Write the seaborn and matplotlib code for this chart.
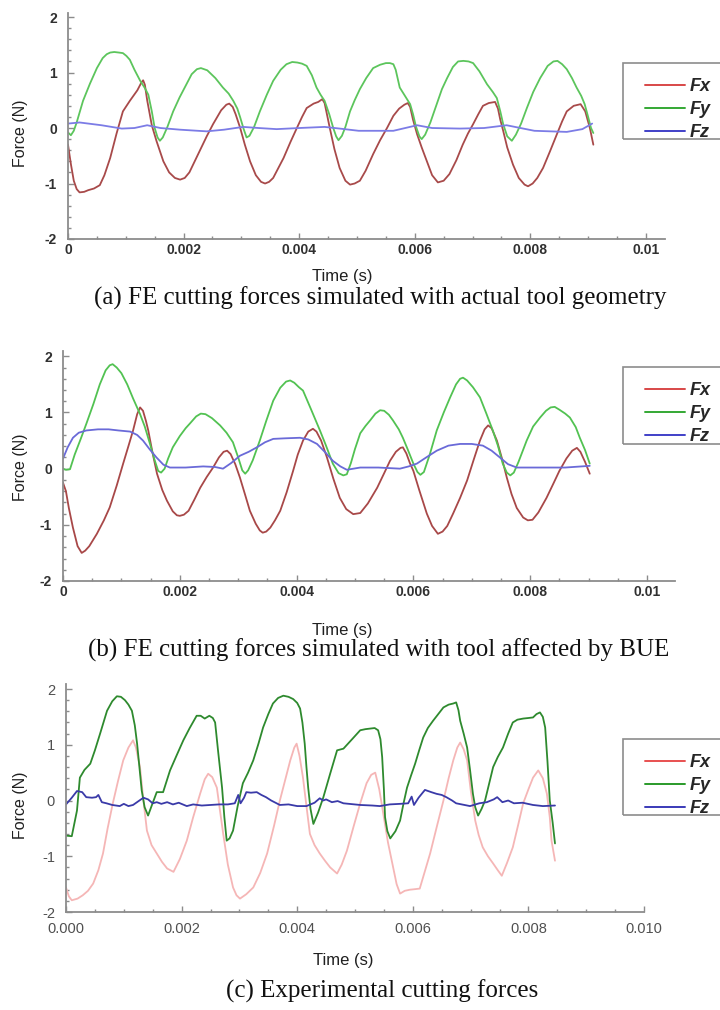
"""Cutting force traces (FE vs experiment) redrawn from the paper figure."""
import matplotlib
matplotlib.use("Agg")
import matplotlib.pyplot as plt
from matplotlib.lines import Line2D
from matplotlib.patches import Rectangle
from matplotlib.ticker import FuncFormatter, MultipleLocator
import pandas as pd
import seaborn as sns

# ---- data: (time in ms, force in N) ----
A_FX = [(0, -0.3), (0.05, -0.65), (0.1, -0.95), (0.15, -1.1), (0.2, -1.16), (0.28, -1.15),
        (0.35, -1.12), (0.45, -1.09), (0.55, -1.03), (0.63, -0.85), (0.73, -0.54), (0.84, -0.1),
        (0.95, 0.3), (1.07, 0.49), (1.2, 0.68), (1.27, 0.82), (1.3, 0.86), (1.33, 0.78),
        (1.37, 0.5), (1.45, 0.05), (1.53, -0.23), (1.65, -0.6), (1.75, -0.8), (1.85, -0.9),
        (1.94, -0.93), (2.02, -0.9), (2.1, -0.8), (2.28, -0.41), (2.4, -0.15), (2.51, 0.07),
        (2.65, 0.32), (2.74, 0.42), (2.79, 0.44), (2.85, 0.38), (2.9, 0.25), (2.98, 0.0),
        (3.06, -0.3), (3.15, -0.6), (3.25, -0.85), (3.34, -0.97), (3.41, -1.0), (3.48, -0.97),
        (3.55, -0.9), (3.73, -0.54), (3.85, -0.25), (3.96, 0.0), (4.05, 0.2), (4.13, 0.36),
        (4.25, 0.44), (4.33, 0.47), (4.4, 0.52), (4.44, 0.45), (4.48, 0.25), (4.53, 0.0),
        (4.61, -0.38), (4.7, -0.72), (4.8, -0.95), (4.88, -1.02), (4.96, -1.0), (5.05, -0.95),
        (5.15, -0.77), (5.28, -0.47), (5.4, -0.22), (5.52, 0.0), (5.63, 0.22), (5.73, 0.35),
        (5.82, 0.42), (5.88, 0.45), (5.92, 0.38), (5.97, 0.15), (6.04, -0.11), (6.12, -0.35),
        (6.21, -0.6), (6.3, -0.85), (6.4, -0.98), (6.5, -0.95), (6.6, -0.83), (6.72, -0.58),
        (6.83, -0.3), (6.92, -0.1), (7.01, 0.07), (7.1, 0.25), (7.18, 0.4), (7.28, 0.45),
        (7.39, 0.47), (7.44, 0.35), (7.48, 0.15), (7.53, -0.05), (7.6, -0.35), (7.7, -0.66),
        (7.8, -0.9), (7.9, -1.02), (7.96, -1.05), (8.04, -1.0), (8.12, -0.9), (8.22, -0.72),
        (8.34, -0.42), (8.46, -0.11), (8.55, 0.12), (8.63, 0.3), (8.75, 0.4), (8.87, 0.43),
        (8.95, 0.3), (9.03, 0.0), (9.09, -0.3)]
A_FY = [(0, -0.08), (0.05, -0.13), (0.1, -0.05), (0.15, 0.1), (0.26, 0.49), (0.38, 0.8),
        (0.5, 1.08), (0.6, 1.26), (0.67, 1.33), (0.73, 1.36), (0.8, 1.37), (0.88, 1.36),
        (0.95, 1.35), (1.01, 1.3), (1.07, 1.23), (1.15, 1.05), (1.25, 0.85), (1.33, 0.72),
        (1.39, 0.6), (1.45, 0.3), (1.5, 0.0), (1.55, -0.17), (1.59, -0.23), (1.64, -0.17),
        (1.72, 0.02), (1.82, 0.3), (1.93, 0.55), (2.05, 0.79), (2.14, 0.97), (2.23, 1.06),
        (2.3, 1.08), (2.41, 1.04), (2.55, 0.9), (2.68, 0.73), (2.78, 0.62), (2.86, 0.49),
        (2.93, 0.35), (2.98, 0.19), (3.04, -0.02), (3.09, -0.17), (3.14, -0.14), (3.22, 0.02),
        (3.32, 0.3), (3.44, 0.6), (3.55, 0.85), (3.68, 1.05), (3.78, 1.15), (3.88, 1.19),
        (3.97, 1.18), (4.05, 1.16), (4.13, 1.12), (4.22, 0.95), (4.3, 0.73), (4.37, 0.6),
        (4.44, 0.49), (4.52, 0.25), (4.59, 0.0), (4.64, -0.15), (4.68, -0.22), (4.74, -0.14),
        (4.8, 0.02), (4.88, 0.3), (4.96, 0.5), (5.05, 0.7), (5.16, 0.9), (5.28, 1.08),
        (5.4, 1.14), (5.5, 1.17), (5.57, 1.17), (5.63, 1.15), (5.67, 1.05), (5.74, 0.73),
        (5.83, 0.58), (5.92, 0.43), (5.97, 0.25), (6.02, 0.03), (6.08, -0.15), (6.12, -0.2),
        (6.18, -0.12), (6.27, 0.1), (6.38, 0.43), (6.47, 0.7), (6.56, 0.9), (6.66, 1.1),
        (6.75, 1.2), (6.84, 1.21), (6.93, 1.2), (7.01, 1.17), (7.12, 1.02), (7.25, 0.79),
        (7.35, 0.65), (7.42, 0.54), (7.48, 0.3), (7.53, 0.07), (7.6, -0.15), (7.68, -0.23),
        (7.75, -0.12), (7.84, 0.08), (7.94, 0.36), (8.05, 0.65), (8.17, 0.9), (8.3, 1.12),
        (8.4, 1.2), (8.47, 1.21), (8.55, 1.15), (8.63, 1.06), (8.72, 0.9), (8.8, 0.73),
        (8.88, 0.58), (8.94, 0.43), (9.0, 0.2), (9.05, 0.0), (9.09, -0.09)]
A_FZ = [(0, 0.08), (0.2, 0.1), (0.58, 0.05), (0.93, -0.01), (1.15, 0.0), (1.37, 0.05),
        (1.6, 0.0), (1.94, -0.03), (2.4, -0.06), (2.7, -0.03), (3.03, 0.02), (3.3, 0.0),
        (3.61, -0.02), (4.0, 0.0), (4.44, 0.02), (4.7, -0.01), (5.03, -0.05), (5.63, -0.05),
        (6.04, 0.05), (6.3, 0.0), (6.78, -0.01), (7.2, 0.0), (7.59, 0.05), (8.07, -0.05),
        (8.63, -0.07), (8.9, -0.02), (9.07, 0.08)]

B_FX = [(0, -0.25), (0.05, -0.4), (0.1, -0.7), (0.17, -1.05), (0.25, -1.38), (0.32, -1.5),
        (0.38, -1.46), (0.45, -1.38), (0.58, -1.16), (0.7, -0.92), (0.8, -0.69), (0.92, -0.3),
        (1.03, 0.09), (1.12, 0.4), (1.2, 0.68), (1.27, 0.97), (1.32, 1.09), (1.37, 1.03),
        (1.42, 0.85), (1.46, 0.68), (1.53, 0.3), (1.61, -0.09), (1.7, -0.38), (1.78, -0.57),
        (1.88, -0.76), (1.95, -0.83), (2.0, -0.84), (2.07, -0.82), (2.15, -0.75), (2.25, -0.55),
        (2.35, -0.34), (2.46, -0.15), (2.57, 0.02), (2.67, 0.2), (2.75, 0.3), (2.81, 0.32),
        (2.87, 0.26), (2.95, 0.08), (3.03, -0.16), (3.12, -0.47), (3.2, -0.75), (3.3, -0.98),
        (3.37, -1.1), (3.42, -1.14), (3.48, -1.12), (3.55, -1.05), (3.63, -0.92), (3.72, -0.75),
        (3.83, -0.42), (3.94, -0.04), (4.02, 0.25), (4.11, 0.5), (4.2, 0.66), (4.28, 0.71),
        (4.34, 0.66), (4.42, 0.5), (4.52, 0.2), (4.63, -0.18), (4.74, -0.52), (4.85, -0.72),
        (4.97, -0.81), (5.09, -0.79), (5.22, -0.62), (5.38, -0.34), (5.5, -0.08), (5.6, 0.14),
        (5.7, 0.3), (5.78, 0.37), (5.82, 0.38), (5.88, 0.27), (5.94, 0.1), (6.0, -0.04),
        (6.1, -0.38), (6.23, -0.8), (6.32, -1.02), (6.42, -1.16), (6.5, -1.12), (6.58, -1.02),
        (6.68, -0.8), (6.8, -0.52), (6.92, -0.21), (7.03, 0.15), (7.14, 0.5), (7.22, 0.7),
        (7.28, 0.77), (7.34, 0.72), (7.43, 0.5), (7.52, 0.17), (7.6, -0.16), (7.68, -0.45),
        (7.77, -0.7), (7.88, -0.87), (7.96, -0.92), (8.04, -0.91), (8.14, -0.78), (8.28, -0.52),
        (8.4, -0.26), (8.5, -0.04), (8.62, 0.18), (8.72, 0.32), (8.8, 0.37), (8.86, 0.3),
        (8.94, 0.12), (9.02, -0.09)]
B_FY = [(0, 0.0), (0.05, -0.02), (0.12, -0.01), (0.2, 0.25), (0.3, 0.52), (0.4, 0.8),
        (0.52, 1.15), (0.63, 1.5), (0.73, 1.75), (0.8, 1.84), (0.85, 1.86), (0.92, 1.8),
        (1.0, 1.7), (1.1, 1.5), (1.2, 1.25), (1.32, 0.97), (1.4, 0.75), (1.49, 0.44),
        (1.57, 0.15), (1.63, -0.04), (1.68, -0.07), (1.74, 0.0), (1.8, 0.18), (1.88, 0.38),
        (2.0, 0.58), (2.1, 0.72), (2.17, 0.8), (2.28, 0.93), (2.36, 0.98), (2.44, 0.97),
        (2.55, 0.9), (2.69, 0.77), (2.8, 0.64), (2.91, 0.47), (3.0, 0.2), (3.07, -0.03),
        (3.12, -0.09), (3.17, -0.03), (3.25, 0.15), (3.37, 0.5), (3.48, 0.85), (3.6, 1.21),
        (3.72, 1.44), (3.82, 1.55), (3.89, 1.57), (3.96, 1.53), (4.04, 1.45), (4.11, 1.39),
        (4.25, 1.05), (4.4, 0.68), (4.5, 0.42), (4.62, 0.09), (4.72, -0.08), (4.8, -0.12),
        (4.86, -0.1), (4.93, 0.1), (5.0, 0.35), (5.09, 0.63), (5.18, 0.76), (5.26, 0.86),
        (5.35, 0.98), (5.43, 1.04), (5.5, 1.03), (5.58, 0.96), (5.65, 0.86), (5.75, 0.7),
        (5.82, 0.55), (5.9, 0.35), (6.0, 0.09), (6.07, -0.06), (6.12, -0.11), (6.18, -0.06),
        (6.28, 0.25), (6.4, 0.68), (6.52, 1.0), (6.63, 1.27), (6.73, 1.5), (6.8, 1.6),
        (6.85, 1.62), (6.92, 1.57), (7.02, 1.45), (7.14, 1.27), (7.25, 0.98), (7.36, 0.68),
        (7.45, 0.4), (7.53, 0.09), (7.6, -0.07), (7.66, -0.12), (7.72, -0.07), (7.8, 0.12),
        (7.94, 0.5), (8.05, 0.75), (8.17, 0.91), (8.27, 1.03), (8.35, 1.09), (8.42, 1.1),
        (8.5, 1.05), (8.6, 0.98), (8.68, 0.91), (8.78, 0.74), (8.85, 0.55), (8.94, 0.33),
        (9.02, 0.09)]
B_FZ = [(0, 0.18), (0.08, 0.38), (0.17, 0.55), (0.27, 0.64), (0.4, 0.68), (0.6, 0.7),
        (0.78, 0.7), (0.95, 0.68), (1.15, 0.66), (1.27, 0.6), (1.37, 0.5), (1.48, 0.35),
        (1.6, 0.2), (1.72, 0.07), (1.83, 0.02), (2.1, 0.02), (2.4, 0.04), (2.6, 0.03),
        (2.74, 0.0), (2.88, 0.1), (3.03, 0.23), (3.18, 0.3), (3.32, 0.38), (3.46, 0.47),
        (3.6, 0.53), (3.8, 0.54), (4.06, 0.55), (4.2, 0.52), (4.35, 0.44), (4.5, 0.28),
        (4.62, 0.14), (4.75, 0.04), (4.86, -0.02), (5.09, 0.02), (5.4, 0.02), (5.77, 0.0),
        (5.92, 0.04), (6.06, 0.09), (6.22, 0.2), (6.4, 0.32), (6.6, 0.41), (6.8, 0.44),
        (7.0, 0.44), (7.19, 0.41), (7.34, 0.32), (7.48, 0.2), (7.62, 0.08), (7.77, 0.02),
        (8.2, 0.02), (8.6, 0.02), (9.02, 0.05)]

C_FX = [(0, -1.56), (0.05, -1.72), (0.1, -1.79), (0.2, -1.76), (0.29, -1.7), (0.38, -1.62),
        (0.47, -1.49), (0.56, -1.25), (0.64, -0.95), (0.72, -0.5), (0.81, -0.05), (0.9, 0.35),
        (0.99, 0.72), (1.08, 0.95), (1.16, 1.08), (1.21, 0.95), (1.28, 0.6), (1.34, 0.0),
        (1.4, -0.54), (1.48, -0.8), (1.57, -0.95), (1.66, -1.1), (1.75, -1.22), (1.86, -1.28),
        (1.97, -1.05), (2.09, -0.72), (2.2, -0.3), (2.32, 0.12), (2.4, 0.38), (2.46, 0.48),
        (2.53, 0.42), (2.61, 0.23), (2.66, -0.15), (2.72, -0.6), (2.8, -1.15), (2.89, -1.56),
        (2.95, -1.7), (3.01, -1.76), (3.12, -1.68), (3.24, -1.56), (3.36, -1.3), (3.48, -0.95),
        (3.6, -0.45), (3.7, 0.0), (3.8, 0.4), (3.88, 0.72), (3.95, 0.95), (3.99, 1.02),
        (4.04, 0.8), (4.1, 0.41), (4.16, -0.1), (4.22, -0.6), (4.3, -0.8), (4.39, -0.95),
        (4.48, -1.08), (4.57, -1.2), (4.69, -1.31), (4.77, -1.15), (4.86, -0.9), (4.98, -0.45),
        (5.09, -0.05), (5.2, 0.31), (5.28, 0.46), (5.35, 0.5), (5.42, 0.2), (5.49, -0.24),
        (5.57, -0.75), (5.66, -1.2), (5.72, -1.5), (5.78, -1.67), (5.86, -1.62), (5.95, -1.6),
        (6.04, -1.59), (6.12, -1.58), (6.2, -1.3), (6.3, -0.95), (6.42, -0.45), (6.53, 0.0),
        (6.62, 0.4), (6.7, 0.72), (6.77, 0.95), (6.82, 1.04), (6.88, 0.92), (6.94, 0.72),
        (7.0, 0.2), (7.08, -0.36), (7.14, -0.62), (7.21, -0.84), (7.3, -1.0), (7.39, -1.13),
        (7.47, -1.25), (7.54, -1.35), (7.63, -1.12), (7.73, -0.84), (7.82, -0.45), (7.91, -0.05),
        (8.0, 0.2), (8.08, 0.41), (8.17, 0.54), (8.25, 0.4), (8.32, 0.12), (8.37, -0.3),
        (8.4, -0.72), (8.46, -1.08)]
C_FY = [(0, -0.63), (0.1, -0.64), (0.19, -0.18), (0.24, 0.41), (0.32, 0.55), (0.42, 0.66),
        (0.5, 0.9), (0.59, 1.2), (0.71, 1.61), (0.8, 1.78), (0.88, 1.87), (0.95, 1.86),
        (1.02, 1.8), (1.08, 1.72), (1.14, 1.61), (1.19, 1.35), (1.23, 1.02), (1.27, 0.6),
        (1.31, 0.18), (1.36, -0.12), (1.42, -0.27), (1.48, -0.1), (1.57, 0.15), (1.68, 0.15),
        (1.8, 0.54), (1.91, 0.8), (2.03, 1.08), (2.14, 1.3), (2.26, 1.52), (2.33, 1.52),
        (2.4, 1.47), (2.48, 1.52), (2.54, 1.48), (2.58, 1.4), (2.63, 0.9), (2.7, 0.23),
        (2.74, -0.3), (2.78, -0.72), (2.83, -0.68), (2.89, -0.54), (2.97, -0.1), (3.06, 0.31),
        (3.15, 0.5), (3.24, 0.72), (3.33, 1.02), (3.41, 1.31), (3.5, 1.55), (3.58, 1.74),
        (3.67, 1.84), (3.76, 1.88), (3.85, 1.86), (3.93, 1.82), (4.0, 1.75), (4.05, 1.65),
        (4.09, 1.4), (4.13, 1.02), (4.16, 0.6), (4.19, 0.23), (4.23, -0.15), (4.28, -0.42),
        (4.36, -0.22), (4.45, 0.05), (4.57, 0.48), (4.69, 0.9), (4.8, 0.93), (4.95, 1.1),
        (5.09, 1.26), (5.18, 1.28), (5.26, 1.29), (5.34, 1.3), (5.4, 1.26), (5.44, 1.1),
        (5.47, 0.78), (5.5, 0.2), (5.52, -0.3), (5.56, -0.55), (5.61, -0.68), (5.7, -0.55),
        (5.78, -0.36), (5.84, -0.05), (5.9, 0.23), (5.97, 0.45), (6.04, 0.66), (6.11, 0.9),
        (6.18, 1.13), (6.26, 1.3), (6.35, 1.43), (6.44, 1.55), (6.53, 1.67), (6.62, 1.72),
        (6.7, 1.74), (6.75, 1.76), (6.79, 1.62), (6.82, 1.43), (6.88, 1.2), (6.94, 0.95),
        (6.99, 0.55), (7.04, 0.12), (7.08, -0.12), (7.13, -0.27), (7.19, -0.15), (7.25, 0.0),
        (7.32, 0.3), (7.39, 0.6), (7.47, 0.78), (7.56, 0.95), (7.65, 1.2), (7.73, 1.4),
        (7.81, 1.45), (7.91, 1.47), (8.0, 1.48), (8.08, 1.49), (8.14, 1.55), (8.2, 1.58),
        (8.25, 1.5), (8.29, 1.31), (8.33, 0.7), (8.37, 0.0), (8.42, -0.4), (8.46, -0.77)]
C_FZ = [(0, -0.07), (0.1, 0.05), (0.19, 0.17), (0.28, 0.15), (0.35, 0.06), (0.45, 0.05),
        (0.52, 0.06), (0.56, 0.1), (0.62, -0.03), (0.7, -0.05), (0.8, -0.08), (0.93, -0.1),
        (1.0, -0.06), (1.08, -0.1), (1.16, -0.08), (1.27, 0.0), (1.34, 0.05), (1.42, 0.02),
        (1.5, -0.05), (1.57, -0.03), (1.65, -0.06), (1.75, -0.03), (1.85, -0.07), (1.95, -0.04),
        (2.09, -0.1), (2.2, -0.07), (2.35, -0.09), (2.5, -0.08), (2.65, -0.07), (2.8, -0.07),
        (2.92, -0.05), (2.98, 0.1), (3.02, -0.05), (3.08, 0.05), (3.12, 0.15), (3.2, 0.14),
        (3.3, 0.15), (3.38, 0.1), (3.46, 0.06), (3.55, 0.0), (3.7, -0.08), (3.85, -0.07),
        (4.0, -0.1), (4.16, -0.1), (4.3, -0.04), (4.39, 0.04), (4.45, 0.0), (4.5, 0.02),
        (4.6, -0.03), (4.7, -0.01), (4.8, -0.05), (5.09, -0.08), (5.3, -0.09), (5.43, -0.1),
        (5.6, -0.07), (5.78, -0.06), (5.92, -0.05), (5.98, 0.07), (6.02, -0.08), (6.1, 0.05),
        (6.21, 0.19), (6.32, 0.15), (6.41, 0.12), (6.5, 0.1), (6.58, 0.06), (6.68, 0.0),
        (6.75, -0.05), (6.99, -0.1), (7.15, -0.05), (7.28, -0.03), (7.4, 0.02), (7.46, 0.06),
        (7.55, -0.03), (7.65, 0.0), (7.75, -0.05), (7.9, -0.04), (8.08, -0.08), (8.25, -0.1),
        (8.46, -0.09)]

SERIES = ["Fx", "Fy", "Fz"]
CAPTIONS = ["(a) FE cutting forces simulated with actual tool geometry",
            "(b) FE cutting forces simulated with tool affected by BUE",
            "(c) Experimental cutting forces"]

W, H = 720, 1010
sns.set_theme(style="white")
plt.rcParams["font.family"] = ["Liberation Sans", "DejaVu Sans"]
plt.rcParams["axes.unicode_minus"] = False

fig = plt.figure(figsize=(W / 100, H / 100), dpi=100)


def fx(px):
    return px / W


def fy(py):
    return 1 - py / H


def to_frame(parts):
    rows = []
    for name, pts in zip(SERIES, parts):
        for t, f in pts:
            rows.append({"time": t * 1e-3, "force": f, "series": name})
    return pd.DataFrame(rows)


def panel(rect_px, xmax, ytop, parts, line_cols, leg_cols, bold, tick_fmt,
          lab_col, lab_size, xpad, leg_box, xlab_xy, ylab_xy, cap_xy, caption):
    left, top, right, bottom = rect_px
    ax = fig.add_axes([fx(left), fy(bottom), (right - left) / W, (bottom - top) / H])
    df = to_frame(parts)
    sns.lineplot(data=df, x="time", y="force", hue="series", hue_order=SERIES,
                 palette=dict(zip(SERIES, line_cols)), estimator=None, sort=False,
                 legend=False, linewidth=1.3, ax=ax)
    ax.set_xlim(0, xmax)
    ax.set_ylim(-2, ytop)
    ax.set_xlabel("")
    ax.set_ylabel("")
    for s in ("top", "right"):
        ax.spines[s].set_visible(False)
    for s in ("left", "bottom"):
        ax.spines[s].set_color("#8c8c8c")
        ax.spines[s].set_linewidth(1.3)
    ax.xaxis.set_major_locator(MultipleLocator(0.002))
    ax.xaxis.set_minor_locator(MultipleLocator(0.0005))
    ax.yaxis.set_major_locator(MultipleLocator(1))
    ax.yaxis.set_minor_locator(MultipleLocator(0.2))
    ax.xaxis.set_major_formatter(FuncFormatter(tick_fmt))
    ax.yaxis.set_major_formatter(FuncFormatter(lambda v, p: f"{v:g}"))
    ax.tick_params(which="both", direction="in", color="#8c8c8c", width=1,
                   bottom=True, left=True, labelsize=lab_size, labelcolor=lab_col)
    ax.tick_params(which="major", length=4)
    ax.tick_params(which="minor", length=2.5)
    ax.tick_params(axis="y", pad=8)
    ax.tick_params(axis="x", pad=xpad)
    if bold:
        plt.setp(ax.get_xticklabels() + ax.get_yticklabels(), fontweight="bold")

    # axis titles and caption
    fig.text(fx(xlab_xy[0]), fy(xlab_xy[1]), "Time (s)", ha="center", va="center",
             fontsize=12, color="#202020")
    fig.text(fx(ylab_xy[0]), fy(ylab_xy[1]), "Force (N)", ha="center", va="center",
             rotation=90, fontsize=11.5, color="#202020")
    fig.text(fx(cap_xy[0]), fy(cap_xy[1]), caption, ha="center", va="baseline",
             fontsize=18, color="#111111",
             family=["Liberation Serif", "DejaVu Serif"])

    # legend: frame drawn as a patch so it can run off the right edge
    bx, btop, bbot = leg_box
    fig.patches.append(Rectangle((fx(bx), fy(bbot)), (730 - bx) / W, (bbot - btop) / H,
                                 transform=fig.transFigure, fill=False,
                                 edgecolor="#8c8c8c", linewidth=1.2))
    handles = [Line2D([], [], color=c, lw=1.4) for c in leg_cols]
    fig.legend(handles, SERIES, loc="upper left",
               bbox_to_anchor=(fx(bx + 22), fy(btop + 15)),
               bbox_transform=fig.transFigure, frameon=False, borderpad=0,
               borderaxespad=0, handlelength=2.2, handletextpad=0.3,
               labelspacing=0.33,
               prop={"weight": "bold", "style": "italic", "size": 13,
                     "family": ["Liberation Sans", "DejaVu Sans"]})
    return ax


panel((68, 12.6, 665, 239), 0.01033, 2.08, [A_FX, A_FY, A_FZ],
      ["#a84a4a", "#5cc55c", "#7c7ce6"], ["#d84848", "#34a834", "#4040c8"],
      True, lambda v, p: f"{v:g}", "#303030", 10, 3, (623, 63, 139),
      (342, 277), (20, 133), (380, 305), CAPTIONS[0])

panel((63, 350.7, 675, 581), 0.01048, 2.1, [B_FX, B_FY, B_FZ],
      ["#a84848", "#52c252", "#6a6ad8"], ["#d84848", "#34a834", "#4040c8"],
      True, lambda v, p: f"{v:g}", "#303030", 10, 3, (623, 367, 444),
      (342, 630), (20, 467), (379, 657), CAPTIONS[1])

panel((66, 684, 644, 912), 0.010, 2.09, [C_FX, C_FY, C_FZ],
      ["#f5b6b6", "#2e8a2e", "#3a3aa8"], ["#e85050", "#2a9a2a", "#3a3ab8"],
      False, lambda v, p: f"{v:.3f}", "#505050", 10.5, 7, (623, 739, 815),
      (343, 960), (20, 805), (382, 998), CAPTIONS[2])

fig.savefig("out.png", dpi=100, facecolor="white")
